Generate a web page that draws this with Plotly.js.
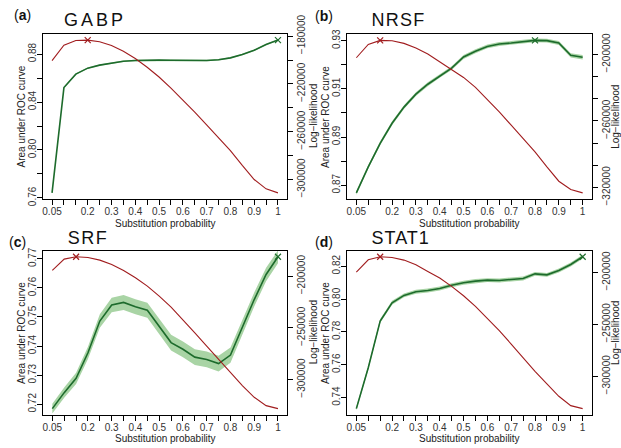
<!DOCTYPE html>
<html><head><meta charset="utf-8">
<script src="https://cdn.plot.ly/plotly-3.0.1.min.js"></script>
<style>html,body{margin:0;padding:0;background:#fff}</style>
</head><body>
<div id="chart" style="width:621px;height:448px"></div>
<script>
// ---------- data ----------
const substitutionProbability = [0.05,0.1,0.15,0.2,0.25,0.3,0.35,0.4,0.45,0.5,0.55,0.6,0.65,0.7,0.75,0.8,0.85,0.9,0.95,1];

const panelLetters = ['a','b','c','d'];
const panelNames = ['GABP','NRSF','SRF','STAT1'];
const xTitle = 'Substitution probability';
const yLeftTitle = 'Area under ROC curve';
const yRightTitle = 'Log\u2212likelihood';

const gabpAuc = [0.7642,0.8521,0.8633,0.8683,0.8708,0.8727,0.8741,0.8747,0.8750,0.8750,0.8749,0.8747,0.8747,0.8747,0.8753,0.8769,0.8797,0.8833,0.8881,0.8917];
const gabpAucErr = [0.0006,0.0006,0.0006,0.0006,0.0006,0.0006,0.0006,0.0006,0.0006,0.0006,0.0006,0.0006,0.0006,0.0006,0.0006,0.0006,0.0006,0.0006,0.0006,0.0006];
const gabpLogLik = [-200470,-187570,-183640,-183360,-184770,-187850,-192620,-198790,-206080,-214210,-223460,-233270,-243650,-254300,-264960,-275890,-288230,-300000,-307850,-311210];

const nrsfAuc = [0.8668,0.8776,0.8874,0.8957,0.9024,0.9078,0.9119,0.9154,0.9186,0.9232,0.9256,0.9276,0.9286,0.9290,0.9296,0.9301,0.9300,0.9290,0.9239,0.9231];
const nrsfAucErr = [0.0008,0.0008,0.0008,0.0008,0.0008,0.0008,0.0008,0.0008,0.0008,0.0008,0.0008,0.0008,0.0008,0.0008,0.0008,0.0008,0.0008,0.0008,0.0009,0.0009];
const nrsfLogLik = [-203010,-190960,-187350,-187650,-190060,-194280,-199700,-206630,-213550,-220780,-229820,-240360,-251810,-263860,-275900,-287950,-301510,-314460,-321990,-325000];

const srfAuc = [0.7185,0.7240,0.7289,0.7377,0.7486,0.7541,0.7550,0.7535,0.7523,0.7469,0.7412,0.7389,0.7362,0.7354,0.7340,0.7369,0.7463,0.7560,0.7646,0.7707];
const srfAucErr = [0.0017,0.0018,0.0019,0.0021,0.0023,0.0025,0.0026,0.0026,0.0026,0.0027,0.0027,0.0027,0.0027,0.0027,0.0027,0.0026,0.0025,0.0024,0.0023,0.0022];
const srfLogLik = [-194520,-183550,-181290,-181940,-184520,-188710,-194520,-201610,-209680,-219350,-230000,-241940,-254840,-267740,-280650,-293550,-305810,-317100,-325160,-328060];

const stat1Auc = [0.7333,0.7582,0.7866,0.7977,0.8022,0.8044,0.8052,0.8064,0.8084,0.8099,0.8109,0.8115,0.8113,0.8121,0.8125,0.8153,0.8147,0.8174,0.8210,0.8257];
const stat1AucErr = [0.0012,0.0012,0.0012,0.0012,0.0012,0.0012,0.0012,0.0012,0.0012,0.0012,0.0012,0.0012,0.0012,0.0012,0.0012,0.0012,0.0012,0.0012,0.0012,0.0012];
const stat1LogLik = [-199680,-187820,-184940,-185580,-188140,-192630,-199040,-205450,-213460,-222440,-232690,-243910,-256090,-268910,-282370,-295190,-307370,-319230,-328210,-331090];

const xTickVals = [0.05,0.1,0.15,0.2,0.25,0.3,0.35,0.4,0.45,0.5,0.55,0.6,0.65,0.7,0.75,0.8,0.85,0.9,0.95,1];
const xTickText = ['0.05','','','0.2','','0.3','','0.4','','0.5','','0.6','','0.7','','0.8','','0.9','','1'];

const gabpAucTicks = [0.76,0.78,0.80,0.82,0.84,0.86,0.88];
const gabpAucTickText = ['0.76','','0.80','','0.84','','0.88'];
const gabpLLTicks = [-300000,-280000,-260000,-240000,-220000,-200000,-180000];
const gabpLLTickText = ['\u2212300000','','\u2212260000','','\u2212220000','','\u2212180000'];

const nrsfAucTicks = [0.87,0.88,0.89,0.90,0.91,0.92,0.93];
const nrsfAucTickText = ['0.87','','0.89','','0.91','','0.93'];
const nrsfLLTicks = [-320000,-300000,-280000,-260000,-240000,-220000,-200000];
const nrsfLLTickText = ['\u2212320000','','','\u2212260000','','','\u2212200000'];

const srfAucTicks = [0.72,0.73,0.74,0.75,0.76,0.77];
const srfAucTickText = ['0.72','0.73','0.74','0.75','0.76','0.77'];
const srfLLTicks = [-300000,-250000,-200000];
const srfLLTickText = ['\u2212300000','\u2212250000','\u2212200000'];

const stat1AucTicks = [0.74,0.76,0.78,0.80,0.82];
const stat1AucTickText = ['0.74','0.76','0.78','0.80','0.82'];
const stat1LLTicks = [-300000,-250000,-200000];
const stat1LLTickText = ['\u2212300000','\u2212250000','\u2212200000'];

// ---------- build ----------
const panels = [
  {auc:gabpAuc, err:gabpAucErr, ll:gabpLogLik, aT:gabpAucTicks, aTT:gabpAucTickText, lT:gabpLLTicks, lTT:gabpLLTickText},
  {auc:nrsfAuc, err:nrsfAucErr, ll:nrsfLogLik, aT:nrsfAucTicks, aTT:nrsfAucTickText, lT:nrsfLLTicks, lTT:nrsfLLTickText},
  {auc:srfAuc, err:srfAucErr, ll:srfLogLik, aT:srfAucTicks, aTT:srfAucTickText, lT:srfLLTicks, lTT:srfLLTickText},
  {auc:stat1Auc, err:stat1AucErr, ll:stat1LogLik, aT:stat1AucTicks, aTT:stat1AucTickText, lT:stat1LLTicks, lTT:stat1LLTickText}
];

const W = 621, H = 448;
const boxes = [
  {l:43, r:287, t:34, b:199},
  {l:347.3, r:591.7, t:34.3, b:199},
  {l:43.3, r:287, t:250.7, b:414.7},
  {l:347.3, r:591.7, t:250.7, b:414.7}
];
const rightTitleOffset = [26.5, 23.5, 26.5, 23.5];
const GREEN = '#1d6b2c', RED = '#a11d1f', BAND = '#a9d4a5';
const FONT = 'Liberation Sans, Arial, Helvetica, sans-serif';
const TICKCOL = '#333';
const TITLECOL = '#222';

function padRange(arr) {
  const mn = Math.min(...arr), mx = Math.max(...arr), d = (mx - mn) * 0.04;
  return [mn - d, mx + d];
}
function argmax(arr) { let k = 0; arr.forEach((v,i)=>{ if (v > arr[k]) k = i; }); return k; }

const p = substitutionProbability;
const xr = padRange(p);
const traces = [];
const layout = {
  width: W, height: H, margin: {l:0, r:0, t:0, b:0},
  paper_bgcolor: '#fff', plot_bgcolor: 'rgba(0,0,0,0)',
  showlegend: false, font: {family: FONT, size: 10, color: TITLECOL},
  annotations: []
};
function paperAnn(px, py, text, opts) {
  return Object.assign({xref: 'paper', yref: 'paper', x: px / W, y: 1 - py / H,
    xanchor: 'center', yanchor: 'middle', showarrow: false, text: text,
    font: {family: FONT, size: 10, color: TITLECOL}}, opts || {});
}

panels.forEach((pd, i) => {
  const xId = i === 0 ? 'x' : 'x' + (i + 1);
  const yLn = 2 * i + 1, yRn = 2 * i + 2;
  const yLId = yLn === 1 ? 'y' : 'y' + yLn;
  const yRId = 'y' + yRn;
  const b = boxes[i];
  const xDom = [b.l / W, b.r / W];
  const yDom = [1 - b.b / H, 1 - b.t / H];

  const upper = pd.auc.map((v, k) => v + pd.err[k]);
  const lower = pd.auc.map((v, k) => v - pd.err[k]);
  traces.push({x: p.concat(p.slice().reverse()), y: upper.concat(lower.slice().reverse()),
    xaxis: xId, yaxis: yLId, type: 'scatter', mode: 'lines', fill: 'toself',
    fillcolor: BAND, line: {width: 0}, hoverinfo: 'skip'});
  traces.push({x: p, y: pd.auc, xaxis: xId, yaxis: yLId, type: 'scatter', mode: 'lines',
    line: {color: GREEN, width: 1.6}, name: 'AUC'});
  const ga = argmax(pd.auc);
  traces.push({x: [p[ga]], y: [pd.auc[ga]], xaxis: xId, yaxis: yLId, type: 'scatter', mode: 'markers',
    marker: {symbol: 'x-thin', size: 6, line: {color: GREEN, width: 1.2}, color: GREEN}});
  traces.push({x: p, y: pd.ll, xaxis: xId, yaxis: yRId, type: 'scatter', mode: 'lines',
    line: {color: RED, width: 1.1}, name: 'Log-likelihood'});
  const ra = argmax(pd.ll);
  traces.push({x: [p[ra]], y: [pd.ll[ra]], xaxis: xId, yaxis: yRId, type: 'scatter', mode: 'markers',
    marker: {symbol: 'x-thin', size: 6, line: {color: RED, width: 1.2}, color: RED}});

  const common = {showgrid: false, zeroline: false, showline: true, linecolor: '#000', linewidth: 1,
    ticks: 'outside', ticklen: 5, tickwidth: 1, tickcolor: '#000',
    tickfont: {family: FONT, size: 10, color: TICKCOL}, automargin: false};

  layout['xaxis' + (i === 0 ? '' : i + 1)] = Object.assign({}, common, {
    domain: xDom, range: xr, anchor: yLId, mirror: true, ticklabelstandoff: -2,
    tickmode: 'array', tickvals: xTickVals, ticktext: xTickText, tickangle: 0
  });
  layout['yaxis' + (yLn === 1 ? '' : yLn)] = Object.assign({}, common, {
    domain: yDom, range: padRange(pd.auc), anchor: xId, side: 'left', ticklabelstandoff: -3,
    tickmode: 'array', tickvals: pd.aT, ticktext: pd.aTT, tickangle: -90
  });
  layout['yaxis' + yRn] = Object.assign({}, common, {
    domain: yDom, range: padRange(pd.ll), anchor: xId, side: 'right', overlaying: yLId,
    tickmode: 'array', tickvals: pd.lT, ticktext: pd.lTT, tickangle: -90
  });

  // axis titles
  const cx = (b.l + b.r) / 2, cy = (b.t + b.b) / 2;
  layout.annotations.push(paperAnn(cx, b.b + 24, xTitle));
  layout.annotations.push(paperAnn(b.l - 22, cy, yLeftTitle, {textangle: -90}));
  layout.annotations.push(paperAnn(b.r + rightTitleOffset[i], cy, yRightTitle, {textangle: -90}));

  // panel letter and name
  const letterX = [12, 313, 7, 313][i];
  const letterY = [15, 16, 242, 242][i];
  layout.annotations.push(paperAnn(letterX, letterY, '(<b>' + panelLetters[i] + '</b>)',
    {xanchor: 'left', font: {family: FONT, size: 14, color: '#111'}}));
  const titleX = [68, 372, 68, 372][i];
  const titleY = [20, 20, 238, 238][i];
  layout.annotations.push(paperAnn(titleX, titleY, panelNames[i],
    {xanchor: 'left', font: {family: FONT, size: 18, color: '#111'}}));
});

Plotly.newPlot('chart', traces, layout, {staticPlot: true, displayModeBar: false}).then(() => {
  const spacing = {GABP: '3px', NRSF: '1.3px', SRF: '1.5px', STAT1: '1px'};
  document.querySelectorAll('.annotation-text').forEach(el => {
    const s = spacing[el.textContent];
    if (s) el.style.letterSpacing = s;
  });
});
</script>
</body></html>
